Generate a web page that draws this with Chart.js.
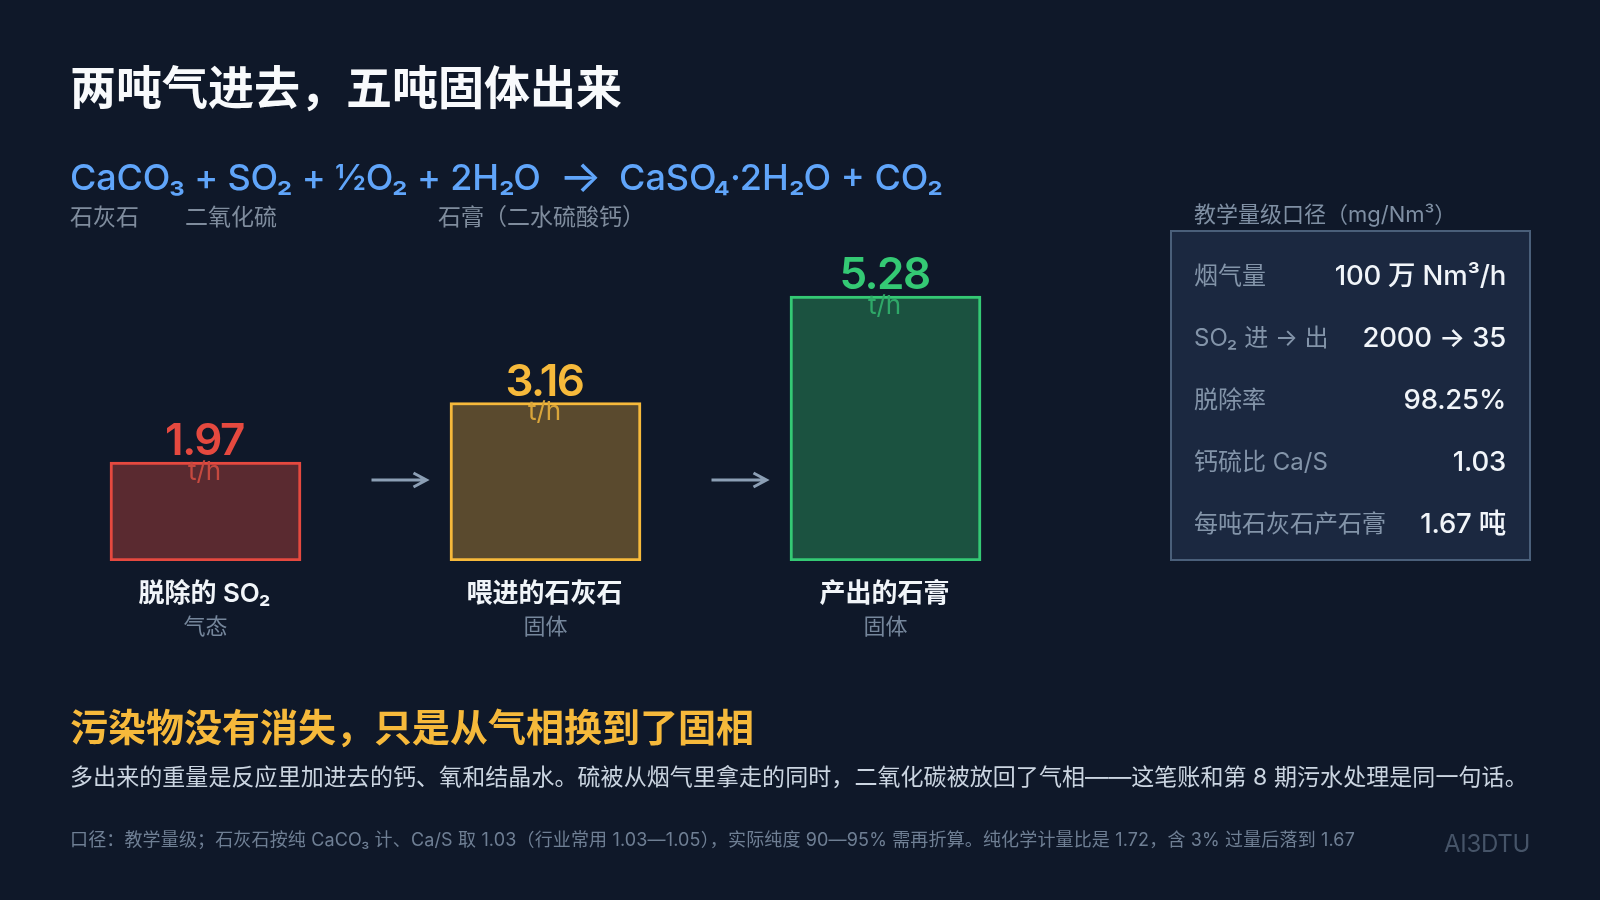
<!DOCTYPE html>
<html lang="zh">
<head>
<meta charset="utf-8">
<script src="https://cdn.jsdelivr.net/npm/chart.js@4"></script>
<style>
html, body { margin: 0; background: #0f1829; }
body { width: 1600px; height: 900px; position: relative; overflow: hidden; font-family: Inter, "Noto Sans CJK SC", sans-serif; }
canvas { position: absolute; left: 0; top: 0; }
.t { position: absolute; white-space: nowrap; line-height: 1; transform: translateY(-50%); }
#panel { position: absolute; left: 1170px; top: 230px; width: 357px; height: 327px; background: #1b2840; border: 2px solid #4a5f7a; }
.lab { position: absolute; left: 22px; color: #8394a9; font-size: 24px; line-height: 1; white-space: nowrap; transform: translateY(-50%); }
.val { position: absolute; right: 23px; color: #f1f5f9; font-size: 27.5px; font-weight: 500; letter-spacing: -.2px; line-height: 1; white-space: nowrap; transform: translateY(-50%); }
</style>
</head>
<body>
<canvas id="chart" width="1600" height="900"></canvas>

<div class="t" style="left:70px;top:87px;font-size:46px;font-weight:700;color:#f8fafc">两吨气进去，五吨固体出来</div>
<div class="t" style="left:70px;top:177px;font-size:36px;font-weight:500;letter-spacing:-.2px;color:#60a5fa">CaCO₃ + SO₂ + ½O₂ + 2H₂O</div>
<div class="t" style="left:559px;top:175px;font-size:45px;font-weight:400;color:#60a5fa">→</div>
<div class="t" style="left:619px;top:177px;font-size:36px;font-weight:500;color:#60a5fa">CaSO₄·2H₂O + CO₂</div>
<div class="t" style="left:70px;top:217px;font-size:23px;color:#7f8c9d">石灰石</div>
<div class="t" style="left:185px;top:217px;font-size:23px;color:#7f8c9d">二氧化硫</div>
<div class="t" style="left:438px;top:217px;font-size:23px;color:#7f8c9d">石膏（二水硫酸钙）</div>

<div class="t" style="left:1194px;top:214px;font-size:22px;color:#7f8fa3">教学量级口径（mg/Nm³）</div>
<div id="panel"></div>

<div class="t" style="left:70px;top:727px;font-size:38px;font-weight:700;color:#f6b93b">污染物没有消失，只是从气相换到了固相</div>
<div class="t" style="left:70px;top:777px;font-size:23px;letter-spacing:.07px;color:#cbd5e1">多出来的重量是反应里加进去的钙、氧和结晶水。硫被从烟气里拿走的同时，二氧化碳被放回了气相——这笔账和第 8 期污水处理是同一句话。</div>
<div class="t" style="left:70px;top:840px;font-size:18px;letter-spacing:.15px;color:#6f7f94">口径：教学量级；石灰石按纯 CaCO₃ 计、Ca/S 取 1.03（行业常用 1.03—1.05），实际纯度 90—95% 需再折算。纯化学计量比是 1.72，含 3% 过量后落到 1.67</div>
<div class="t" style="right:70px;top:844px;font-size:24px;letter-spacing:-.3px;color:#465468">AI3DTU</div>

<script>
// t/h per stream
const categories = ['脱除的 SO₂', '喂进的石灰石', '产出的石膏'];
const phases = ['气态', '固体', '固体'];
const values = [1.97, 3.16, 5.28];
const unit = 't/h';

const lineColors = ['#e5493f', '#f6b93b', '#34c974'];
const fillColors = ['#5a2a30', '#5a4a2e', '#1b5240'];
const unitColors = ['#c5493f', '#d9a53a', '#2fa868'];

const panelLabels = ['烟气量', 'SO₂ 进 → 出', '脱除率', '钙硫比 Ca/S', '每吨石灰石产石膏'];
const panelValues = ['100 万 Nm³/h', '2000 → 35', '98.25%', '1.03', '1.67 吨'];

const panel = document.getElementById('panel');
panelLabels.forEach((label, i) => {
    const y = 44 + i * 62;
    const l = document.createElement('div');
    l.className = 'lab';
    l.style.top = y + 'px';
    l.textContent = label;
    const v = document.createElement('div');
    v.className = 'val';
    v.style.top = y + 'px';
    v.textContent = panelValues[i];
    panel.appendChild(l);
    panel.appendChild(v);
});

const FONT = 'Inter, "Noto Sans CJK SC", sans-serif';

// value + unit above each bar, names under the baseline, arrows between bars
const barText = {
    id: 'barText',
    afterDatasetsDraw(chart) {
        const { ctx, scales: { x, y } } = chart;
        ctx.save();
        ctx.textAlign = 'center';
        ctx.textBaseline = 'middle';
        values.forEach((v, i) => {
            const cx = x.getPixelForValue(i);
            const top = y.getPixelForValue(v);
            ctx.fillStyle = lineColors[i];
            ctx.font = '600 44px ' + FONT;
            ctx.letterSpacing = '-1.5px';
            ctx.fillText(v.toFixed(2), cx - 1, top - 20);
            ctx.letterSpacing = '0px';
            ctx.fillStyle = unitColors[i];
            ctx.font = '400 26px ' + FONT;
            ctx.fillText(unit, cx - 1, top + 10);
            ctx.fillStyle = '#f1f5f9';
            ctx.font = '600 26px ' + FONT;
            ctx.fillText(categories[i], cx - 1, y.getPixelForValue(0) + 33);
            ctx.fillStyle = '#75869b';
            ctx.font = '400 22px ' + FONT;
            ctx.fillText(phases[i], cx, y.getPixelForValue(0) + 66);
        });
        // arrows
        ctx.strokeStyle = '#8c9fb5';
        ctx.lineWidth = 3;
        for (let i = 0; i < values.length - 1; i++) {
            const start = x.getPixelForValue(i) + 166;
            const end = start + 55;
            const ay = y.getPixelForValue(0) - 81;
            ctx.beginPath();
            ctx.moveTo(start, ay);
            ctx.lineTo(end, ay);
            ctx.moveTo(end - 13, ay - 7);
            ctx.lineTo(end, ay);
            ctx.lineTo(end - 13, ay + 7);
            ctx.stroke();
        }
        ctx.restore();
    }
};

new Chart(document.getElementById('chart'), {
    type: 'bar',
    data: {
        labels: categories,
        datasets: [{
            data: values,
            backgroundColor: fillColors,
            borderColor: lineColors,
            borderWidth: 3,
            borderSkipped: false,
            barThickness: 191
        }]
    },
    options: {
        responsive: false,
        animation: false,
        layout: { padding: { left: 35.5, right: 544.5, top: 260, bottom: 339 } },
        scales: {
            x: { display: false },
            y: { display: false, min: 0, max: 6 }
        },
        plugins: { legend: { display: false }, tooltip: { enabled: false } }
    },
    plugins: [barText]
});
</script>
</body>
</html>
